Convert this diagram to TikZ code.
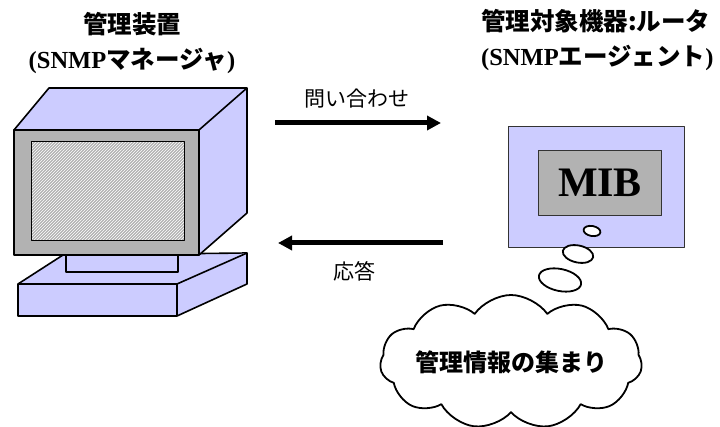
\documentclass[tikz,border=0pt]{standalone}
\usepackage{fontspec}
\setmainfont{Liberation Serif}
\newfontfamily\jp{Noto Sans CJK JP}
\usetikzlibrary{positioning}
\usetikzlibrary{shapes}
\usetikzlibrary{patterns}
\usetikzlibrary{arrows.meta}
\definecolor{lav}{RGB}{204,204,255}
\definecolor{bezel}{RGB}{178,178,178}

\begin{document}
\begin{tikzpicture}[x=1pt,y=-1pt,line join=round,
    title/.style={font=\jp\bfseries\fontsize{24.5}{35}\selectfont,inner sep=0},
    label/.style={font=\jp\fontsize{21}{24}\selectfont,inner sep=0},
    body/.style={draw=black,line width=1.6pt,fill=lav},
    msg/.style={line width=5pt,-{Triangle[length=14pt,width=14pt]}},
    bubble/.style={ellipse,draw=black,line width=1.8pt,fill=white,inner sep=0}]
\useasboundingbox (0,0) rectangle (720,427);

% Place the titles
\node [title,align=center] (mgr) at (132,43)
  {管理装置\\{\rmfamily\bfseries (SNMP}マネージャ{\rmfamily\bfseries )}};
\node [title,align=left,anchor=west] (agent) at (481,40)
  {管理対象機器:ルータ\\{\rmfamily\bfseries (SNMP}エージェント{\rmfamily\bfseries )}};

% Manager: monitor on a base
\draw [body] (18,284) -- (63,255) -- (247,253) -- (247,284) -- (177,316) -- (18,316) -- cycle;
\draw [body] (18,284) -- (177,284) -- (247,253);
\draw [body] (177,284) -- (177,316);
\draw [body] (66,250) -- (66,272) -- (178,272) -- (178,250);
\draw [body] (14,130) -- (49,88) -- (247,88) -- (247,213) -- (199,255) -- (199,130) -- cycle;
\draw [body] (199,130) -- (247,88);
\draw [draw=black,line width=1.6pt,fill=bezel] (14,130) rectangle (199,255);
\fill [gray!60] (31,142) rectangle (184,241);
\fill [pattern=north east lines,pattern color=white] (31,142) rectangle (184,241);
\draw [black,line width=1pt] (31,142) rectangle (184,241);

% Agent: router holding the MIB
\node [draw=black!80,line width=1pt,fill=lav,minimum width=176,minimum height=121,inner sep=0] (router) at (596,187) {};
\node [draw=black!80,line width=1pt,fill=bezel,minimum width=123,minimum height=65,inner sep=0,
       font=\rmfamily\bfseries\fontsize{42}{44}\selectfont] (mib) at (600,183) {MIB};

% Messages
\coordinate (q0) at (275,123);
\coordinate (q1) at (441,123);
\coordinate (r0) at (443,243);
\coordinate (r1) at (278,243);
\draw [msg] (q0) -- (q1);
\draw [msg] (r0) -- (r1);
\node [label] (ask) at (357,99) {問い合わせ};
\node [label] (ans) at (354,271) {応答};

% Thought bubbles and the cloud
\node [bubble,minimum width=17,minimum height=10,rotate=-10] (b1) at (592,231) {};
\node [bubble,minimum width=31,minimum height=17,rotate=-12] (b2) at (578,254) {};
\node [bubble,minimum width=43,minimum height=22,rotate=-12] (b3) at (560,280) {};
\node [cloud,cloud puffs=11,cloud puff arc=110,aspect=2.1,draw=black,line width=1.8pt,fill=white,
       minimum width=262,minimum height=134,inner sep=0] (pool) at (511,362) {};
\node [font=\jp\bfseries\fontsize{24}{26}\selectfont] (info) at (pool.center) {管理情報の集まり};
\end{tikzpicture}
\end{document}
